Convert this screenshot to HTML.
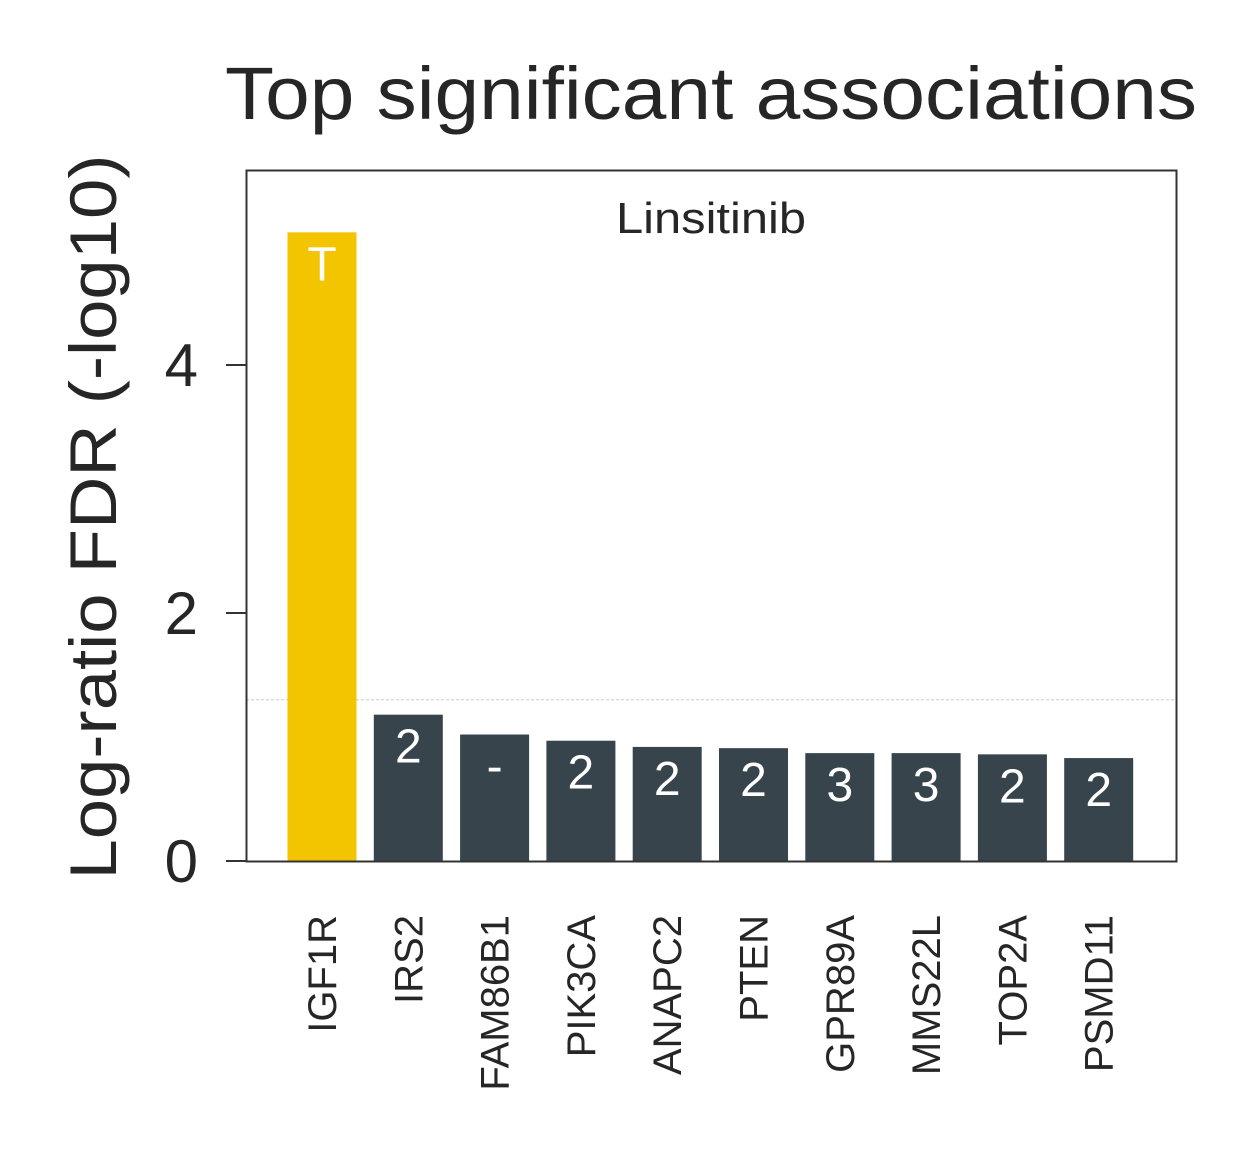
<!DOCTYPE html>
<html><head><meta charset="utf-8"><style>
html,body{margin:0;padding:0;background:#fff;}
svg{display:block;font-family:"Liberation Sans",Arial,sans-serif;}
</style></head><body>
<svg id="chart" width="1260" height="1154" viewBox="0 0 1260 1154">
<text x="711" y="119" font-size="74" fill="#262626" text-anchor="middle" textLength="972" lengthAdjust="spacingAndGlyphs">Top significant associations</text>
<text transform="translate(116,517) rotate(-90)" font-size="66" fill="#262626" text-anchor="middle" textLength="725" lengthAdjust="spacingAndGlyphs">Log-ratio FDR (-log10)</text>
<text x="711" y="233" font-size="44" fill="#262626" text-anchor="middle" textLength="190" lengthAdjust="spacingAndGlyphs">Linsitinib</text>
<g id="marks"></g>
<rect x="246.5" y="170.5" width="930" height="691" fill="none" stroke="#333" stroke-width="2"/>
</svg>
<script>
const categories=["IGF1R","IRS2","FAM86B1","PIK3CA","ANAPC2","PTEN","GPR89A","MMS22L","TOP2A","PSMD11"];
const values=[5.07,1.18,1.02,0.97,0.92,0.91,0.87,0.87,0.86,0.83];
const barLabels=["T","2","-","2","2","2","3","3","2","2"];
const yTicks=[0,2,4];
const threshold=1.3;
const ns="http://www.w3.org/2000/svg";
const g=document.getElementById('marks');
const x0=246,x1=1176,y0=861,y1=170;
const yMax=(y0-y1)/124;
function y(v){return y0-(v/yMax)*(y0-y1);}
const step=86.3, bw=69;
function xc(i){return 322+i*step;}
function mk(tag,attrs){const e=document.createElementNS(ns,tag);for(const k in attrs)e.setAttribute(k,attrs[k]);return e;}
const th=mk('line',{x1:x0,x2:x1,y1:y(threshold),y2:y(threshold),stroke:'#ccc','stroke-width':1,'stroke-dasharray':'3,2'});


g.appendChild(th);
yTicks.forEach(t=>{
  const l=mk('line',{x1:x0-20,x2:x0,y1:y(t),y2:y(t),stroke:'#333','stroke-width':2});
  
  
  g.appendChild(l);
  const tx=mk('text',{x:198,y:y(t)+21,'font-size':60,fill:'#262626','text-anchor':'end'});
  tx.textContent=t;
  
  
  g.appendChild(tx);
});
categories.forEach((c,i)=>{
  const r=mk('rect',{x:xc(i)-bw/2,y:y(values[i]),width:bw,height:y0-y(values[i]),fill:i===0?'#f2c500':'#37444b'});
  
  
  g.appendChild(r);
  const t=mk('text',{x:xc(i),y:y(values[i])+48,'font-size':48,fill:'#fff','text-anchor':'middle'});
  t.textContent=barLabels[i];
  
  
  g.appendChild(t);
  const xl=mk('text',{transform:'translate('+(xc(i)+14)+',915) rotate(-90)','font-size':40,fill:'#262626','text-anchor':'end'});
  xl.textContent=c;
  
  
  g.appendChild(xl);
});
</script>
</body></html>
